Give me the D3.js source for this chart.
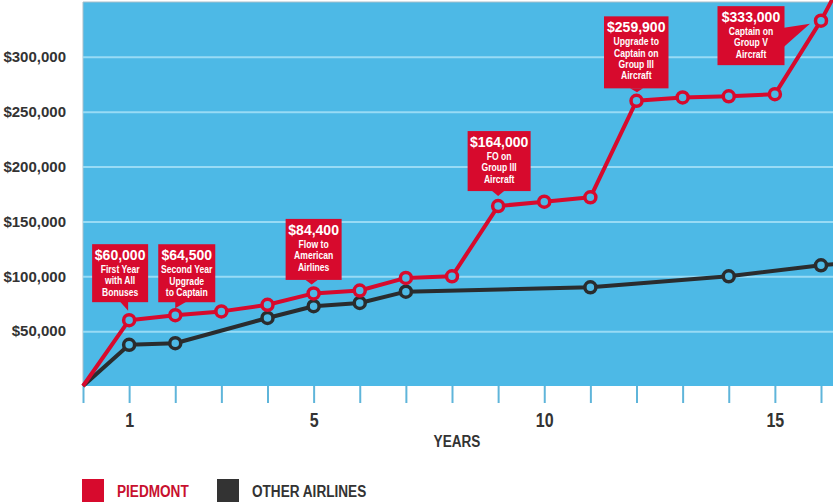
<!DOCTYPE html>
<html>
<head>
<meta charset="utf-8">
<script src="https://cdn.jsdelivr.net/npm/d3@7"></script>
<style>
  body { margin: 0; background: #fff; }
  svg { display: block; }
</style>
</head>
<body>
<script>
// data
const piedmontYears  = [0, 1, 2, 3, 4, 5, 6, 7, 8, 9, 10, 11, 12, 13, 14, 15, 16, 17];
const piedmontValues = [0, 60000, 64500, 68000, 74000, 84400, 87000, 98500, 100000, 164000,
                        168000, 172000, 259900, 263000, 264000, 266000, 333000, 412000];
const otherYears  = [0, 1, 2, 4, 5, 6, 7, 11, 14, 16, 17];
const otherValues = [0, 37500, 39000, 62000, 72700, 75700, 86000, 90000, 100000, 110000, 114000];

const xTicks = [0, 1, 2, 3, 4, 5, 6, 7, 8, 9, 10, 11, 12, 13, 14, 15, 16];
const xLabels = [1, 5, 10, 15];
const yTicks = [50000, 100000, 150000, 200000, 250000, 300000];

const calloutYears  = [1, 2, 5, 9, 12, 16];
const calloutValues = [60000, 64500, 84400, 164000, 259900, 333000];
const calloutNotes  = [
  ["First Year", "with All", "Bonuses"],
  ["Second Year", "Upgrade", "to Captain"],
  ["Flow to", "American", "Airlines"],
  ["FO on", "Group III", "Aircraft"],
  ["Upgrade to", "Captain on", "Group III", "Aircraft"],
  ["Captain on", "Group V", "Aircraft"]
];

const seriesNames = ["PIEDMONT", "OTHER AIRLINES"];

// box placement relative to the data point (layout only)
const calloutLayout = [
  {dx: -37,  dy: -76,  w: 56, h: 58, ptr: [[-9, -18.5], [-1, -18.5], [-1, -9.5]]},
  {dx: -17,  dy: -71,  w: 57, h: 58, ptr: [[0, -13.5], [11, -13.5], [0, -7]]},
  {dx: -28,  dy: -74.5, w: 56, h: 61, ptr: [[-8, -13.5], [4, -13.5], [-2, -9]]},
  {dx: -30.5, dy: -75, w: 63, h: 60, ptr: [[-6, -15], [6, -15], [0, -10]]},
  {dx: -32.5, dy: -84.5, w: 64.5, h: 72, ptr: [[-6.5, -12.5], [6.5, -12.5], [0.5, -8.5]]},
  {dx: -103.5, dy: -14.5, w: 67, h: 59, ptr: [[-37, 7], [-37, 26], [-11, 3]]}
];

// create svg canvas
const canvWidth = 833, canvHeight = 502;
const svg = d3.select("body").append("svg")
    .attr("width", canvWidth)
    .attr("height", canvHeight);

const plot = {left: 83, right: 833, top: 2, bottom: 386};

const RED = "#d70a2d", DARK = "#2a2c2e", BLUE = "#4db9e6";
const font = "'Liberation Sans',Arial,sans-serif";
const SQUEEZE = 0.8; // no condensed face installed, so squeeze horizontally

// squeezed bold text, anchored at (x, y)
const narrowText = (parent, x, y, str, size, anchor, color, squeeze = SQUEEZE) => {
    parent.append("g")
        .attr("transform", `translate(${x},${y}) scale(${squeeze},1)`)
        .append("text")
        .attr("text-anchor", anchor)
        .attr("fill", color)
        .attr("font-family", font)
        .attr("font-weight", "bold")
        .attr("font-size", size + "px")
        .text(str);
};

const xScale = d3.scaleLinear().domain([0, 16]).range([plot.left, 821]);
const yScale = d3.scaleLinear().domain([0, 350000]).range([plot.bottom, plot.top]);

// blue plot background
svg.append("rect")
    .attr("x", plot.left)
    .attr("y", plot.top)
    .attr("width", plot.right - plot.left)
    .attr("height", plot.bottom - plot.top)
    .attr("fill", BLUE);

svg.append("path")
    .attr("d", `M${plot.left},${plot.bottom}V${plot.top}H${plot.right}`)
    .attr("fill", "none")
    .attr("stroke", "#a8bfca")
    .attr("stroke-width", 1);

// y axis with gridlines
const yAxis = svg.append("g")
    .attr("transform", `translate(${plot.left},0)`)
    .call(d3.axisLeft(yScale)
        .tickValues(yTicks)
        .tickSize(-(plot.right - plot.left))
        .tickPadding(17)
        .tickFormat(d => "$" + d3.format(",")(d)));
yAxis.select(".domain").remove();
yAxis.selectAll(".tick line")
    .attr("stroke", "#98dbf5")
    .attr("stroke-width", 2);
yAxis.selectAll(".tick text")
    .attr("fill", "#333")
    .attr("font-family", font)
    .attr("font-weight", "bold")
    .attr("font-size", "15px");

// x axis
const xAxis = svg.append("g")
    .attr("transform", `translate(0,${plot.bottom})`)
    .call(d3.axisBottom(xScale)
        .tickValues(xTicks)
        .tickSize(17)
        .tickPadding(10)
        .tickFormat(d => xLabels.includes(d) ? d : ""));
xAxis.select(".domain").remove();
xAxis.selectAll(".tick line")
    .attr("stroke", "#5fb5da")
    .attr("stroke-width", 2);
xAxis.selectAll(".tick text")
    .attr("transform", `scale(${SQUEEZE},1)`)
    .attr("fill", "#333")
    .attr("font-family", font)
    .attr("font-weight", "bold")
    .attr("font-size", "20px");

narrowText(svg, 457, 447, "YEARS", 17, "middle", "#333");

// series
const piedmont = piedmontYears.map((yr, i) => ({year: yr, value: piedmontValues[i]}));
const other = otherYears.map((yr, i) => ({year: yr, value: otherValues[i]}));

const line = d3.line()
    .x(d => xScale(d.year))
    .y(d => yScale(d.value));

const drawSeries = (data, color) => {
    svg.append("path")
        .datum(data)
        .attr("d", line)
        .attr("fill", "none")
        .attr("stroke", color)
        .attr("stroke-width", 4)
        .attr("stroke-linejoin", "round");
    svg.append("g")
        .selectAll("circle")
        .data(data.filter(d => d.year > 0 && d.year <= 16))
        .enter()
        .append("circle")
        .attr("cx", d => xScale(d.year))
        .attr("cy", d => yScale(d.value))
        .attr("r", 5.5)
        .attr("fill", BLUE)
        .attr("stroke", color)
        .attr("stroke-width", 3.5);
};
drawSeries(other, DARK);
drawSeries(piedmont, RED);

// callouts
calloutYears.forEach((yr, i) => {
    const px = xScale(yr), py = yScale(calloutValues[i]);
    const lay = calloutLayout[i];
    const g = svg.append("g").attr("transform", `translate(${px},${py})`);
    g.append("rect")
        .attr("x", lay.dx)
        .attr("y", lay.dy)
        .attr("width", lay.w)
        .attr("height", lay.h)
        .attr("fill", RED);
    g.append("polygon")
        .attr("points", lay.ptr.map(p => p.join(",")).join(" "))
        .attr("fill", RED);
    const cx = lay.dx + lay.w / 2;
    g.append("text")
        .attr("x", cx)
        .attr("y", lay.dy + 16)
        .attr("text-anchor", "middle")
        .attr("fill", "#fff")
        .attr("font-family", font)
        .attr("font-weight", "bold")
        .attr("font-size", "14px")
        .text("$" + d3.format(",")(calloutValues[i]));
    calloutNotes[i].forEach((note, j) => {
        narrowText(g, cx, lay.dy + 29 + j * 11.3, note, 11, "middle", "#fff", 0.78);
    });
});

// legend
const legend = svg.append("g").attr("transform", "translate(82,479)");
const legendColors = [RED, "#333"];
const legendText = ["#c8102e", "#333"];
const legendX = [0, 135];
seriesNames.forEach((name, i) => {
    legend.append("rect")
        .attr("x", legendX[i])
        .attr("y", 0)
        .attr("width", 22)
        .attr("height", 23)
        .attr("fill", legendColors[i]);
    narrowText(legend, legendX[i] + 35, 18, name, 17, "start", legendText[i]);
});
</script>
</body>
</html>
